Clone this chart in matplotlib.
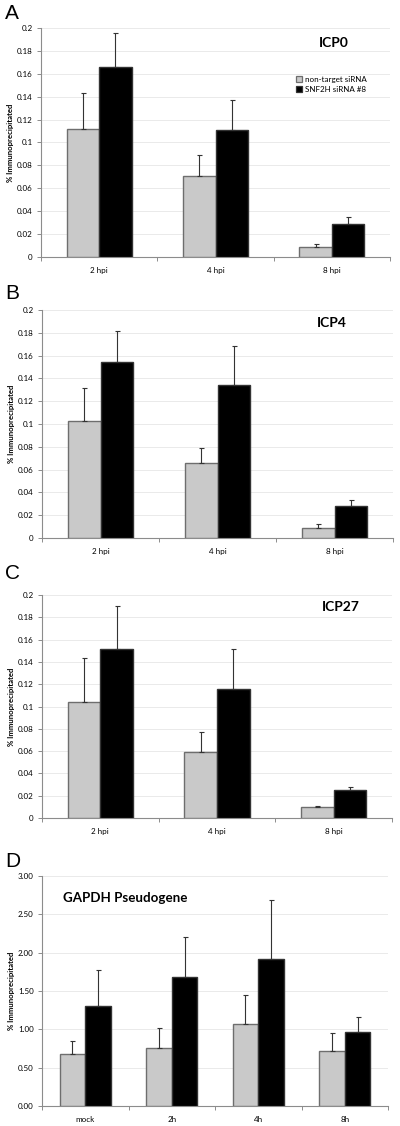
import matplotlib
matplotlib.use("Agg")
import matplotlib.pyplot as plt
import numpy as np
from matplotlib.patches import Patch

plt.rcParams['font.family'] = ['Lato', 'DejaVu Sans']

# ---------------- data ----------------
cats_hpi = ["2 hpi", "4 hpi", "8 hpi"]
cats_d = ["mock", "2h", "4h", "8h"]
series_names = ["non-target siRNA", "SNF2H siRNA #8"]

icp0_ctrl = [0.112, 0.071, 0.009]
icp0_ctrl_err = [0.031, 0.018, 0.002]
icp0_kd = [0.166, 0.111, 0.029]
icp0_kd_err = [0.030, 0.026, 0.006]

icp4_ctrl = [0.103, 0.066, 0.009]
icp4_ctrl_err = [0.029, 0.013, 0.003]
icp4_kd = [0.154, 0.134, 0.028]
icp4_kd_err = [0.028, 0.034, 0.005]

icp27_ctrl = [0.104, 0.059, 0.0095]
icp27_ctrl_err = [0.040, 0.018, 0.0015]
icp27_kd = [0.152, 0.116, 0.025]
icp27_kd_err = [0.038, 0.036, 0.003]

gapdh_ctrl = [0.68, 0.76, 1.07, 0.72]
gapdh_ctrl_err = [0.17, 0.26, 0.38, 0.23]
gapdh_kd = [1.31, 1.68, 1.92, 0.96]
gapdh_kd_err = [0.46, 0.52, 0.76, 0.20]

ticks_small = [0, 0.02, 0.04, 0.06, 0.08, 0.1, 0.12, 0.14, 0.16, 0.18, 0.2]
ticklabels_small = ["0", "0.02", "0.04", "0.06", "0.08", "0.1", "0.12", "0.14", "0.16", "0.18", "0.2"]
ticks_d = [0, 0.5, 1.0, 1.5, 2.0, 2.5, 3.0]
ticklabels_d = ["0.00", "0.50", "1.00", "1.50", "2.00", "2.50", "3.00"]

GRAY = "#c9c9c9"
GRAY_EDGE = "#6e6e6e"
BLACK = "#000000"
AXC = "#8c8c8c"

fig = plt.figure(figsize=(4.0, 11.26), dpi=100)

def panel(rect, cats, ctrl, ctrl_err, kd, kd_err, ticks, ticklabels, title, title_xy, title_size, w):
    ax = fig.add_axes(rect)
    n = len(cats)
    centers = np.arange(n) + 0.5
    ax.bar(centers - w / 2, ctrl, width=w, color=GRAY, edgecolor=GRAY_EDGE, linewidth=1.0, zorder=3)
    ax.bar(centers + w / 2, kd, width=w, color=BLACK, edgecolor="#333333", linewidth=1.0, zorder=3)
    ax.errorbar(centers - w / 2, ctrl, yerr=[np.zeros(n), ctrl_err], fmt='none',
                ecolor="#333333", elinewidth=0.8, capsize=1.8, capthick=0.8, zorder=4)
    ax.errorbar(centers + w / 2, kd, yerr=[np.zeros(n), kd_err], fmt='none',
                ecolor="#333333", elinewidth=0.8, capsize=1.8, capthick=0.8, zorder=4)
    ax.set_xlim(0, n)
    ax.set_ylim(ticks[0], ticks[-1])
    ax.set_yticks(ticks)
    ax.set_yticklabels(ticklabels, fontsize=5.8)
    ax.set_xticks(np.arange(n + 1))
    ax.set_xticklabels([])
    ax.set_xticks(centers, minor=True)
    ax.set_xticklabels(cats, minor=True, fontsize=5.8)
    ax.tick_params(axis='x', which='minor', length=0, pad=7)
    ax.tick_params(axis='x', which='major', length=3, color=AXC, width=0.7)
    ax.tick_params(axis='y', length=3, color=AXC, width=0.7, pad=3)
    ax.yaxis.grid(True, color="#e6e6e6", linewidth=0.6, zorder=0)
    ax.set_axisbelow(True)
    for s in ("top", "right"):
        ax.spines[s].set_visible(False)
    for s in ("left", "bottom"):
        ax.spines[s].set_color(AXC)
        ax.spines[s].set_linewidth(0.8)
    ax.set_ylabel("% Immunoprecipitated", fontsize=5.6, fontweight='bold')
    ax.yaxis.set_label_coords(-27 / (rect[2] * 400), 0.5)
    ax.text(title_xy[0], title_xy[1], title, transform=ax.transAxes, ha='center', va='center',
            fontsize=title_size, fontweight='bold')
    return ax

axA = panel([0.1025, 0.7718, 0.8725, 0.2034], cats_hpi, icp0_ctrl, icp0_ctrl_err, icp0_kd, icp0_kd_err,
            ticks_small, ticklabels_small, "ICP0", (0.84, 0.934), 10, 0.28)
axB = panel([0.105, 0.5222, 0.8775, 0.2025], cats_hpi, icp4_ctrl, icp4_ctrl_err, icp4_kd, icp4_kd_err,
            ticks_small, ticklabels_small, "ICP4", (0.825, 0.943), 10, 0.28)
axC = panel([0.105, 0.2735, 0.875, 0.198], cats_hpi, icp27_ctrl, icp27_ctrl_err, icp27_kd, icp27_kd_err,
            ticks_small, ticklabels_small, "ICP27", (0.855, 0.946), 10, 0.28)
axD = panel([0.105, 0.01776, 0.865, 0.2043], cats_d, gapdh_ctrl, gapdh_ctrl_err, gapdh_kd, gapdh_kd_err,
            ticks_d, ticklabels_d, "GAPDH Pseudogene", (0.24, 0.904), 9.6, 0.295)

handles = [Patch(facecolor=GRAY, edgecolor=GRAY_EDGE, linewidth=0.9),
           Patch(facecolor=BLACK, edgecolor="#333333", linewidth=0.9)]
axA.legend(handles, series_names, loc='upper left', bbox_to_anchor=(0.73, 0.79), frameon=False,
           fontsize=5.8, handlelength=0.8, handleheight=0.8, handletextpad=0.3, labelspacing=0.35,
           borderaxespad=0, borderpad=0)

for letter, ytop in zip("ABCD", [4, 284, 564, 852]):
    fig.text(0.012, 1 - ytop / 1126, letter, fontsize=15, family='Liberation Sans', va='top', ha='left')

fig.savefig("out.png", dpi=100)
